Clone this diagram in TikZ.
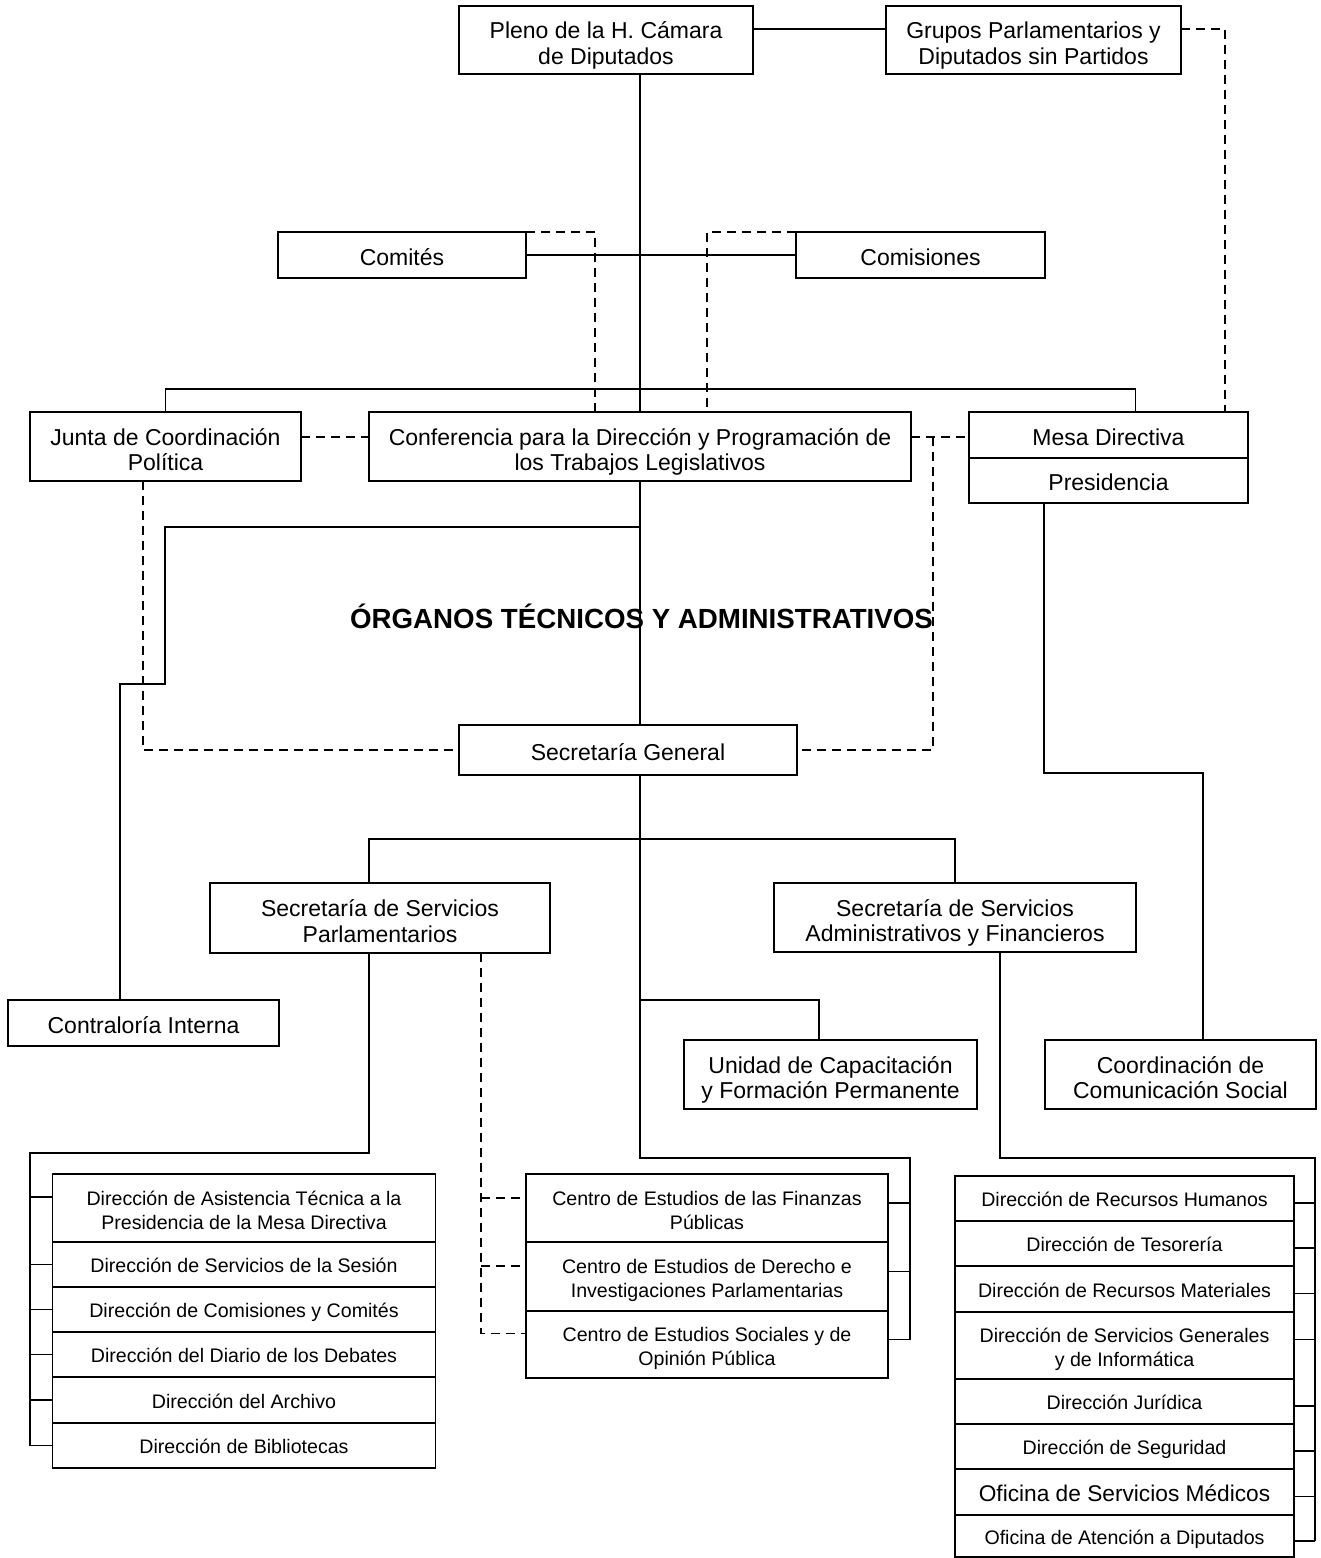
\documentclass[tikz,border=0pt]{standalone}
\usepackage{fontspec}
\setmainfont{Liberation Sans}

\begin{document}
\begin{tikzpicture}[x=1pt, y=-1pt, line width=1.6pt,
    box/.style={draw, fill=white, rectangle, inner sep=0pt, outer sep=0pt, align=center, font=\fontsize{23}{25.5}\selectfont, text height=20pt, text depth=0pt},
    two/.style={box, text height=48.7pt, text depth=0pt},
    row/.style={box, font=\fontsize{19.6}{24}\selectfont, text height=16pt, text depth=0pt},
    tworow/.style={row, text height=42pt, text depth=0pt},
    aux/.style={line width=1.3pt, dash pattern=on 9pt off 6pt}]
    \useasboundingbox (0,0) rectangle (1320,1558);

    % upper level
    \node[two, minimum width=294pt, minimum height=68pt] (pleno) at (606,40) {Pleno de la H. Cámara\\de Diputados};
    \node[two, minimum width=295pt, minimum height=68pt] (grupos) at (1033.5,40) {Grupos Parlamentarios y\\Diputados sin Partidos};
    \node[box, minimum width=248pt, minimum height=46pt] (comites) at (402,255) {Comités};
    \node[box, minimum width=249pt, minimum height=46pt] (comisiones) at (920.5,255) {Comisiones};
    \node[two, minimum width=271pt, minimum height=69pt] (junta) at (165.5,446.5) {Junta de Coordinación\\Política};
    \node[two, minimum width=542pt, minimum height=69pt] (conf) at (640,446.5) {Conferencia para la Dirección y Programación de\\los Trabajos Legislativos};
    \node[box, minimum width=279pt, minimum height=46pt] (mesa) at (1108.5,435) {Mesa Directiva};
    \node[box, minimum width=279pt, minimum height=45pt] (presid) at (1108.5,480.5) {Presidencia};

    \node[font=\fontsize{27.7}{30}\selectfont\bfseries] (organos) at (641.5,616) {ÓRGANOS TÉCNICOS Y ADMINISTRATIVOS};

    % technical and administrative level
    \node[box, minimum width=338pt, minimum height=50pt] (secgen) at (628,750) {Secretaría General};
    \node[box, minimum width=271pt, minimum height=46pt] (contra) at (143.5,1023) {Contraloría Interna};
    \node[two, minimum width=340pt, minimum height=70pt] (ssp) at (380,918) {Secretaría de Servicios\\Parlamentarios};
    \node[two, minimum width=362pt, minimum height=69pt] (ssaf) at (955,917.5) {Secretaría de Servicios\\Administrativos y Financieros};
    \node[two, minimum width=293pt, minimum height=69pt] (unidad) at (830.5,1074.5) {Unidad de Capacitación\\y Formación Permanente};
    \node[two, minimum width=271pt, minimum height=69pt] (coord) at (1180.5,1074.5) {Coordinación de\\Comunicación Social};

    % direcciones parlamentarias
    \node[tworow, minimum width=383pt, minimum height=68pt] (d1) at (244,1208) {Dirección de Asistencia Técnica a la\\Presidencia de la Mesa Directiva};
    \node[row, minimum width=383pt, minimum height=45pt] (d2) at (244,1264.5) {Dirección de Servicios de la Sesión};
    \node[row, minimum width=383pt, minimum height=45pt] (d3) at (244,1309.5) {Dirección de Comisiones y Comités};
    \node[row, minimum width=383pt, minimum height=45pt] (d4) at (244,1354.5) {Dirección del Diario de los Debates};
    \node[row, minimum width=383pt, minimum height=46pt] (d5) at (244,1400) {Dirección del Archivo};
    \node[row, minimum width=383pt, minimum height=45pt] (d6) at (244,1445.5) {Dirección de Bibliotecas};

    % centros de estudios
    \node[tworow, minimum width=362pt, minimum height=68pt] (ce1) at (707,1208) {Centro de Estudios de las Finanzas\\Públicas};
    \node[tworow, minimum width=362pt, minimum height=69pt] (ce2) at (707,1276.5) {Centro de Estudios de Derecho e\\Investigaciones Parlamentarias};
    \node[tworow, minimum width=362pt, minimum height=67pt] (ce3) at (707,1344.5) {Centro de Estudios Sociales y de\\Opinión Pública};

    % direcciones administrativas
    \node[row, minimum width=339pt, minimum height=45pt] (r1) at (1124.5,1198.5) {Dirección de Recursos Humanos};
    \node[row, minimum width=339pt, minimum height=45pt] (r2) at (1124.5,1243.5) {Dirección de Tesorería};
    \node[row, minimum width=339pt, minimum height=46pt] (r3) at (1124.5,1289) {Dirección de Recursos Materiales};
    \node[tworow, minimum width=339pt, minimum height=67pt] (r4) at (1124.5,1345.5) {Dirección de Servicios Generales\\y de Informática};
    \node[row, minimum width=339pt, minimum height=45pt] (r5) at (1124.5,1401.5) {Dirección Jurídica};
    \node[row, minimum width=339pt, minimum height=45pt] (r6) at (1124.5,1446.5) {Dirección de Seguridad};
    \node[row, minimum width=339pt, minimum height=46pt, font=\fontsize{22.7}{25}\selectfont, text height=19pt] (r7) at (1124.5,1492) {Oficina de Servicios Médicos};
    \node[row, minimum width=339pt, minimum height=42pt] (r8) at (1124.5,1536) {Oficina de Atención a Diputados};

    \coordinate (trunk) at (640,0);
    \coordinate (bar) at (0,389);
    \coordinate (c1) at (165,527);
    \coordinate (c2) at (120,684);
    \coordinate (p1) at (1044,773);
    \coordinate (b2) at (0,839);
    \coordinate (lc) at (30,1153);
    \coordinate (ld) at (481,0);
    \coordinate (rc) at (910,1158);
    \coordinate (rr) at (1315,1158);
    \coordinate (rd) at (933,437);

    % solid lines
    \draw ([yshift=11pt]pleno.east) -- ([yshift=11pt]grupos.west);
    \draw (trunk |- pleno.south) -- (trunk |- conf.north);
    \draw (comites.east) -- (comisiones.west);
    \draw (junta.north) |- (bar -| trunk) -| ([xshift=27pt]mesa.north);
    \draw (trunk |- conf.south) -- (trunk |- secgen.north);
    \draw (c1 -| trunk) -- (c1) |- (c2) -- (c2 |- contra.north);
    \draw (p1 |- presid.south) -- (p1) -| ([xshift=22.5pt]coord.north);
    \draw ([xshift=-11pt]ssp.north) |- (b2 -| ssaf.north) -- (ssaf.north);
    \draw (trunk |- secgen.south) |- (rc) -- ([yshift=5pt]rc |- ce3.east);
    \draw (trunk |- contra.north) -| ([xshift=-11.5pt]unidad.north);
    \draw ([xshift=-11pt]ssp.south) |- (lc) -- (lc |- d6.west);
    \draw ([xshift=45pt]ssaf.south) |- (rr) -- ([yshift=-5pt]rr |- r8.east);

    \draw ([yshift=11pt]d1.west) -- ([yshift=11pt]d1.west -| lc);
    \draw (d2.west) -- (d2.west -| lc);
    \draw (d3.west) -- (d3.west -| lc);
    \draw (d4.west) -- (d4.west -| lc);
    \draw (d5.west) -- (d5.west -| lc);
    \draw (d6.west) -- (d6.west -| lc);

    \draw ([yshift=5pt]ce1.east) -- ([yshift=5pt]ce1.east -| rc);
    \draw ([yshift=5pt]ce2.east) -- ([yshift=5pt]ce2.east -| rc);
    \draw ([yshift=5pt]ce3.east) -- ([yshift=5pt]ce3.east -| rc);

    \draw ([yshift=-4.5pt]r1.east) -- ([yshift=-4.5pt]r1.east -| rr);
    \draw ([yshift=-4.5pt]r2.east) -- ([yshift=-4.5pt]r2.east -| rr);
    \draw ([yshift=-4.5pt]r3.east) -- ([yshift=-4.5pt]r3.east -| rr);
    \draw ([yshift=6pt]r4.east) -- ([yshift=6pt]r4.east -| rr);
    \draw ([yshift=-4.5pt]r5.east) -- ([yshift=-4.5pt]r5.east -| rr);
    \draw ([yshift=-4.5pt]r6.east) -- ([yshift=-4.5pt]r6.east -| rr);
    \draw ([yshift=-4.5pt]r7.east) -- ([yshift=-4.5pt]r7.east -| rr);
    \draw ([yshift=-5pt]r8.east) -- ([yshift=-5pt]r8.east -| rr);

    % dashed lines
    \draw[aux] ([yshift=11pt]grupos.east) -| ([xshift=116.5pt]mesa.north);
    \draw[aux] (comites.north east) -| ([xshift=-45pt]conf.north);
    \draw[aux] (comisiones.north west) -| ([xshift=67pt]conf.north);
    \draw[aux] ([yshift=9.5pt]junta.east) -- ([yshift=9.5pt]conf.west);
    \draw[aux] ([yshift=9.5pt]conf.east) -- (rd -| mesa.west);
    \draw[aux] (rd) |- (secgen.east);
    \draw[aux] ([xshift=-22.5pt]junta.south) |- (secgen.west);
    \draw[aux] ([xshift=101pt]ssp.south) -- ([yshift=11pt]ld |- ce3.west) -- ([yshift=11pt]ce3.west);
    \draw[aux] ([yshift=10pt]ld |- ce1.west) -- ([yshift=10pt]ce1.west);
    \draw[aux] ([yshift=10.5pt]ld |- ce2.west) -- ([yshift=10.5pt]ce2.west);
\end{tikzpicture}
\end{document}
